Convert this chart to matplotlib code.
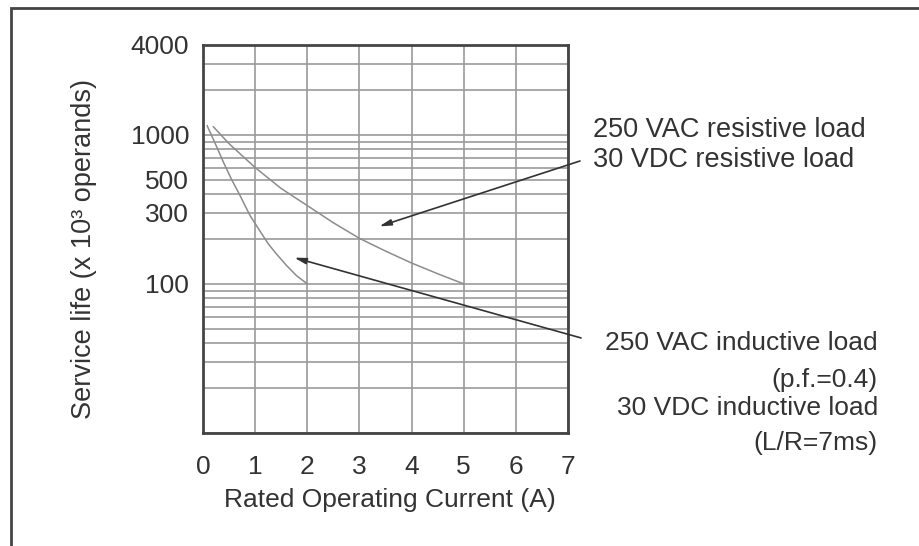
import numpy as np
import matplotlib
matplotlib.use("Agg")
import matplotlib.pyplot as plt
from matplotlib.ticker import FixedLocator, FixedFormatter, LogLocator, NullFormatter
from matplotlib.patches import Rectangle

plt.rcParams['font.family'] = ['Liberation Sans', 'DejaVu Sans']

# curves (current in A, life in x10^3 operations)
resistive_x = [0.2, 0.5, 1.0, 1.5, 2.0, 2.5, 3.0, 3.5, 4.0, 4.5, 5.0]
resistive_y = [1130, 871, 603, 436, 335, 257, 202, 166, 138, 117, 100]
inductive_x = [0.08, 0.25, 0.4, 0.55, 0.7, 0.9, 1.1, 1.25, 1.4, 1.6, 1.8, 2.0]
inductive_y = [1150, 850, 645, 500, 398, 288, 224, 186, 160, 133, 113, 100]

y_label_ticks = [100, 300, 500, 1000, 4000]
x_ticks = [0, 1, 2, 3, 4, 5, 6, 7]

# arrow heads (data coords) and tails (just right of the plot)
res_arrow_head = (3.38, 243)
res_arrow_tail = (7.23, 667)
ind_arrow_head = (1.75, 150)
ind_arrow_tail = (7.25, 43.4)

TXT = '#333333'
GRID = '#9a9a9a'
CURVE = '#8c8c8c'

fig = plt.figure(figsize=(9.2, 5.46), dpi=100)
ax = fig.add_axes([203/920, 1 - 433/546, 365/920, 388/546])

ax.plot(resistive_x, resistive_y, color=CURVE, lw=1.1)
ax.plot(inductive_x, inductive_y, color=CURVE, lw=1.1)

ax.set_yscale('log')
ax.set_xlim(0, 7)
ax.set_ylim(10, 4000)
ax.xaxis.set_major_locator(FixedLocator(x_ticks))
ax.yaxis.set_major_locator(FixedLocator(y_label_ticks))
ax.yaxis.set_major_formatter(FixedFormatter([str(v) for v in y_label_ticks]))
ax.yaxis.set_minor_locator(LogLocator(base=10, subs=np.arange(1, 10)))
ax.yaxis.set_minor_formatter(NullFormatter())

ax.grid(True, which='both', axis='y', color=GRID, lw=1.2)
ax.grid(True, which='major', axis='x', color=GRID, lw=1.2)
ax.tick_params(which='both', length=0, labelsize=19, labelcolor=TXT)
ax.tick_params(axis='y', pad=10)
ax.tick_params(axis='x', pad=16)
for s in ax.spines.values():
    s.set_color('#444444')
    s.set_linewidth(2)

ax.set_xlabel('Rated Operating Current (A)', fontsize=19, color=TXT, va='center')
ax.xaxis.set_label_coords(0.512, -0.173)
ax.set_ylabel('Service life (x 10³ operands)', fontsize=19.5, color=TXT, va='center')
ax.yaxis.set_label_coords(-0.326, 0.474)

arrow = dict(arrowstyle='-|>,head_length=0.7,head_width=0.18', color='#333333', lw=1.2,
             shrinkA=0, shrinkB=0)
ax.annotate('', xy=res_arrow_head, xytext=res_arrow_tail, arrowprops=arrow,
            annotation_clip=False)
ax.annotate('', xy=ind_arrow_head, xytext=ind_arrow_tail, arrowprops=arrow,
            annotation_clip=False)

tr = ax.transAxes
ax.text(1.068, 0.781, '250 VAC resistive load', transform=tr, fontsize=19.5,
        color=TXT, ha='left', va='center')
ax.text(1.068, 0.704, '30 VDC resistive load', transform=tr, fontsize=19.5,
        color=TXT, ha='left', va='center')
ax.text(1.849, 0.232, '250 VAC inductive load', transform=tr, fontsize=19,
        color=TXT, ha='right', va='center')
ax.text(1.849, 0.137, '(p.f.=0.4)', transform=tr, fontsize=19,
        color=TXT, ha='right', va='center')
ax.text(1.849, 0.064, '30 VDC inductive load', transform=tr, fontsize=19,
        color=TXT, ha='right', va='center')
ax.text(1.849, -0.026, '(L/R=7ms)', transform=tr, fontsize=19,
        color=TXT, ha='right', va='center')

# outer frame, only left and top edges fall inside the image
fig.patches.append(Rectangle((11/920, -0.2), 1.2, 1.2 - 7.5/546,
                             transform=fig.transFigure, fill=False,
                             ec='#444444', lw=2))

fig.savefig('out.png', dpi=100)
